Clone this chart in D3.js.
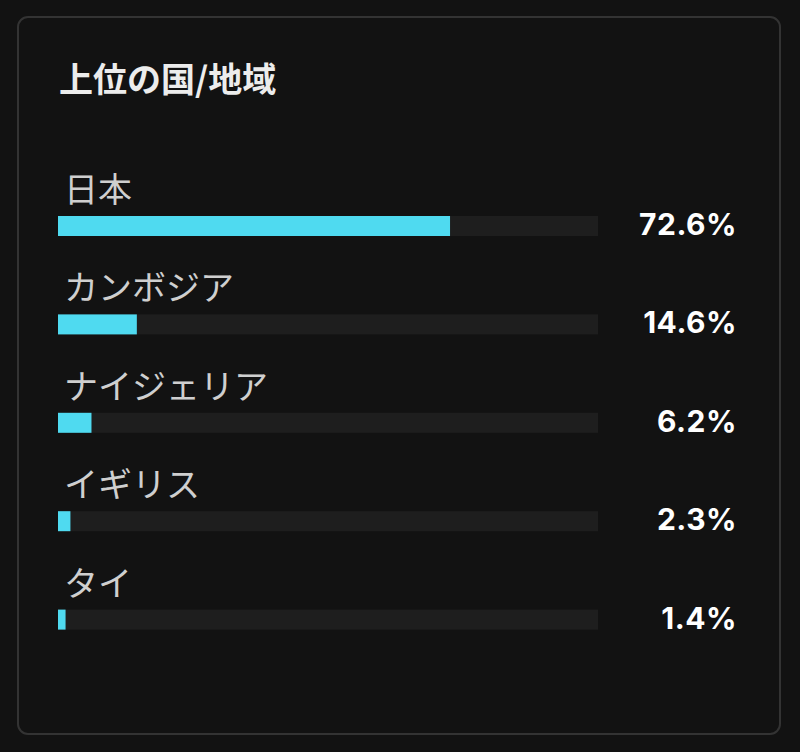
<!DOCTYPE html>
<html><head><meta charset="utf-8">
<script src="https://cdn.jsdelivr.net/npm/d3@7"></script>
<style>
html,body{margin:0;padding:0;background:#121212;}
svg{display:block;}
</style></head>
<body>
<script>
const title = "上位の国/地域";
const categories = ["日本", "カンボジア", "ナイジェリア", "イギリス", "タイ"];
const values = [72.6, 14.6, 6.2, 2.3, 1.4];
const valueLabels = ["72.6%", "14.6%", "6.2%", "2.3%", "1.4%"];

const W = 800, H = 752;
const svg = d3.select("body").append("svg").attr("width", W).attr("height", H);
const font = "'Noto Sans CJK JP', 'Noto Sans', sans-serif";

svg.append("rect").attr("width", W).attr("height", H).attr("fill", "#121212");
svg.append("rect").attr("x", 18).attr("y", 17).attr("width", 762).attr("height", 717)
  .attr("rx", 10).attr("fill", "#121212").attr("stroke", "#333333").attr("stroke-width", 2);

svg.append("text").attr("x", 59).attr("y", 92).text(title)
  .attr("font-family", font).attr("font-size", 34).attr("font-weight", 700)
  .attr("fill", "#ececec");

const x = d3.scaleLinear().domain([0, 100]).range([58, 598]);
const y = d3.scaleBand().domain(categories).range([167, 659]).paddingInner(0).paddingOuter(0);

const g = svg.selectAll("g.row").data(categories).join("g").attr("class", "row")
  .attr("transform", d => `translate(0,${y(d)})`);

g.append("text").attr("x", 64).attr("y", 35).text(d => d)
  .attr("font-family", font).attr("font-size", 34).attr("fill", "#cfcfcf");

g.append("rect").attr("x", x(0)).attr("y", 49).attr("width", x(100) - x(0)).attr("height", 20)
  .attr("fill", "#1e1e1e");

g.append("rect").attr("x", x(0)).attr("y", 49).attr("width", (d, i) => x(values[i]) - x(0)).attr("height", 20)
  .attr("fill", "#4fdaf0");

g.append("text").attr("x", 737).attr("y", 68).attr("text-anchor", "end")
  .text((d, i) => valueLabels[i])
  .attr("font-family", "Inter, sans-serif").attr("font-size", 30).attr("font-weight", 700)
  .attr("letter-spacing", 0.5).attr("fill", "#ffffff");
</script>
</body></html>
